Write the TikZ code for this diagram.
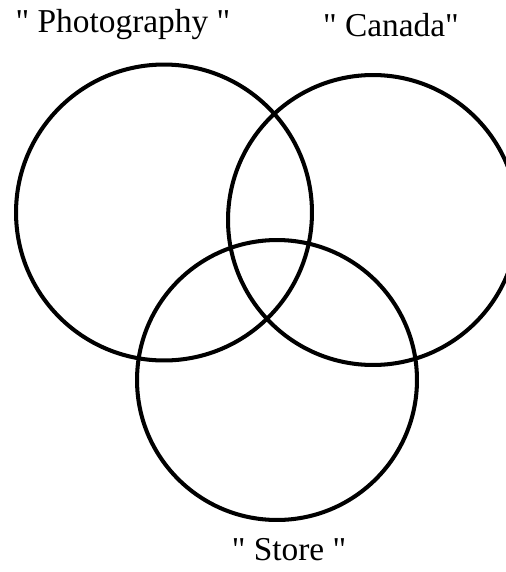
\documentclass[tikz,border=0pt]{standalone}
\usepackage{fontspec}
\newfontfamily\namefont{Liberation Serif}
\usepackage{tikz}
\usetikzlibrary{positioning}

\begin{document}
\begin{tikzpicture}[
    x=0.02cm, y=-0.02cm,
    venn/.style={circle, draw, line width=2.3pt, inner sep=0pt, outer sep=0pt},
    setname/.style={font=\namefont\fontsize{19}{23}\selectfont, inner sep=0pt}
]
\useasboundingbox (0,0) rectangle (506,572);
\node[venn, minimum size=5.92cm] (photo) at (164,212.5) {};
\node[venn, minimum size=5.8cm] (canada) at (373,220) {};
\node[venn, minimum size=5.6cm] (store) at (277,380) {};
\node[setname] (photoname) at (123,25) {" Photography "};
\node[setname] (canadaname) at (391,25) {" Canada"};
\node[setname] (storename) at (289,550) {" Store "};
\end{tikzpicture}
\end{document}
